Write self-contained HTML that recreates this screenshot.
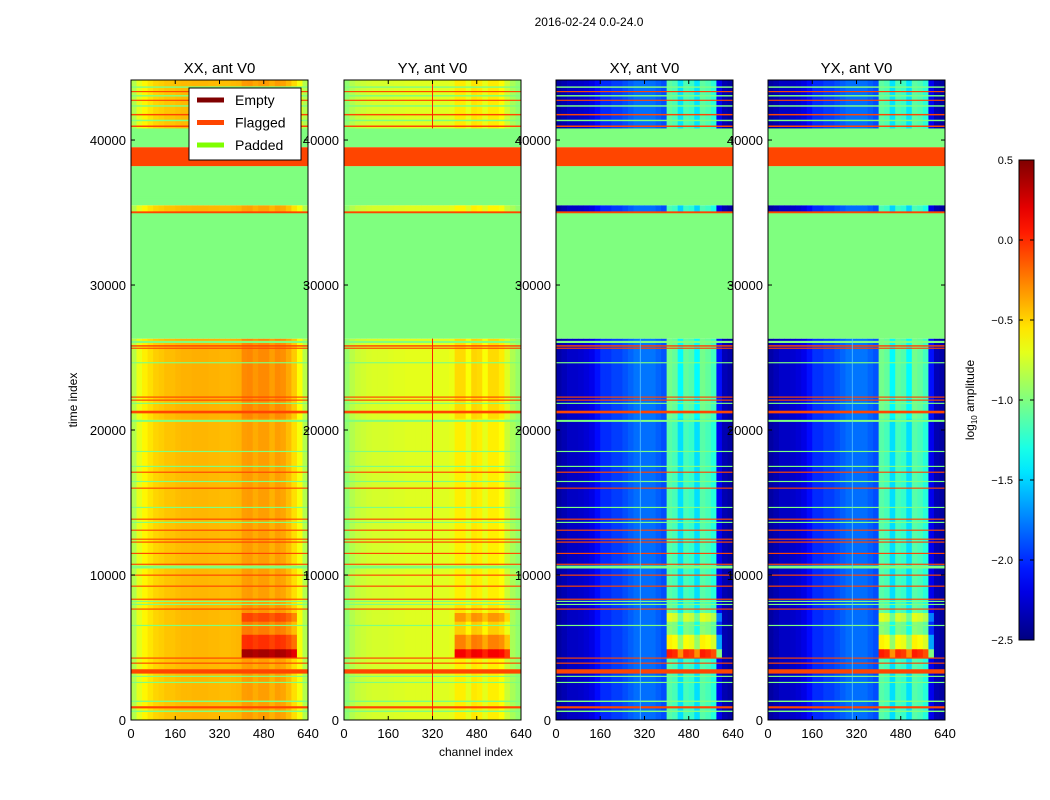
<!DOCTYPE html>
<html><head><meta charset="utf-8"><style>
body{margin:0;background:#fff;}
svg{display:block;font-family:"Liberation Sans",sans-serif;}
</style></head><body>
<svg id="fig" width="1050" height="800" viewBox="0 0 1050 800"></svg>
<script>
// ---- data ----
const panelTitles = ["XX, ant V0","YY, ant V0","XY, ant V0","YX, ant V0"];
const xTicks = [0,160,320,480,640];
const yTicks = [0,10000,20000,30000,40000];
const cbTicks = [0.5,0.0,-0.5,-1.0,-1.5,-2.0,-2.5];
// spectrum profiles, 32 bins of 20 channels (log10 amplitude)
const profXX = [-0.85,-0.7,-0.6,-0.55,-0.5,-0.48,-0.45,-0.45,-0.43,-0.42,-0.42,-0.41,-0.41,-0.41,-0.42,-0.42,-0.43,-0.43,-0.42,-0.41,-0.36,-0.35,-0.4,-0.36,-0.36,-0.42,-0.36,-0.38,-0.45,-0.55,-0.65,-0.85];
const profYY = [-0.95,-0.85,-0.8,-0.78,-0.76,-0.75,-0.75,-0.75,-0.74,-0.73,-0.73,-0.72,-0.72,-0.72,-0.72,-0.72,-0.72,-0.72,-0.72,-0.7,-0.6,-0.6,-0.72,-0.58,-0.6,-0.72,-0.6,-0.6,-0.65,-0.8,-0.88,-0.95];
const profXY = [-2.4,-2.35,-2.3,-2.3,-2.28,-2.25,-2.2,-2.1,-2.0,-2.0,-1.95,-1.95,-1.9,-1.85,-1.8,-1.8,-1.8,-1.8,-1.85,-1.9,-1.15,-1.2,-1.5,-1.2,-1.25,-1.5,-1.15,-1.2,-1.3,-2.2,-2.35,-2.4];
const profYX = [-2.4,-2.35,-2.3,-2.3,-2.28,-2.25,-2.2,-2.1,-2.0,-2.0,-1.95,-1.95,-1.9,-1.85,-1.8,-1.8,-1.8,-1.8,-1.85,-1.9,-1.15,-1.2,-1.5,-1.2,-1.25,-1.5,-1.15,-1.2,-1.3,-2.2,-2.35,-2.4];
const boostScale = [1.0,1.0,1.6,1.6];
// data time segments: [t0, t1, offset all channels, extra boost on band channels 400-600]
const segStart = [0,4300,4900,5900,6800,7400,8000,20800,35000,40800];
const segEnd   = [4300,4900,5900,6800,7400,8000,20800,26300,35500,44140];
const segOffset= [0,0,0,0,0,0,0,0.02,0,0];
const segBoost = [0.02,0.75,0.35,0.12,0.28,0.05,0.02,0.06,0,0.03];
// padded (green) intervals
const padStart = [26300,35500,39500,550,1240,2550,2970,6480,7930,8140,10450,13590,14620,16410,17450,18480,20560,21800,24600,26000,36000,41300,42300,43000,43600];
const padEnd   = [35000,38200,40800,650,1340,2630,3050,6560,8010,8220,10650,13670,14700,16490,17530,18560,20700,21880,24680,26150,36100,41400,42400,43100,43700];
// flagged (orange) intervals
const flagStart = [38200,3200,800,3880,4230,7610,8290,9190,9950,10700,11450,12230,12430,13050,13810,15950,17050,21150,22020,22230,25600,25750,34950,40900,41700,42700,43300];
const flagEnd   = [39500,3500,950,3960,4310,7690,8370,9270,10030,10780,11530,12310,12510,13130,13890,16030,17130,21330,22100,22310,25680,25850,35080,41000,41800,42780,43380];
const profiles = [profXX,profYY,profXY,profYX];

// ---- helpers ----
function jet(v){
  let x=(v+2.5)/3; x=Math.max(0,Math.min(1,x));
  const f=(a)=>Math.max(0,Math.min(1,1.5-Math.abs(4*x-a)));
  const r=f(3),g=f(2),b=f(1);
  return `rgb(${Math.round(r*255)},${Math.round(g*255)},${Math.round(b*255)})`;
}
const NS="http://www.w3.org/2000/svg";
const svg=document.getElementById('fig');
function el(tag,attrs,parent){const e=document.createElementNS(NS,tag);for(const k in attrs)e.setAttribute(k,attrs[k]);(parent||svg).appendChild(e);return e;}
function txt(s,attrs,parent){const e=el('text',attrs,parent);e.textContent=s;return e;}

const panelX=[131,344,556,768], PW=177, PT=80, PB=720, TMAX=44140;
const yScale=t=>PB-(t/TMAX)*(PB-PT);
const xScale=(i,c)=>panelX[i]+c/640*PW;

txt("2016-02-24 0.0-24.0",{x:589,y:26,'text-anchor':'middle','font-size':12,});

for(let p=0;p<4;p++){
  const g=el('g',{});
  
  
  const prof=profiles[p];
  for(let s=0;s<segStart.length;s++){
    const y0=yScale(segEnd[s]), y1=yScale(segStart[s]);
    for(let b=0;b<prof.length;b++){
      const c0=b*20;
      let v=prof[b]+segOffset[s];
      if(c0>=400&&c0<600) v+=segBoost[s]*boostScale[p];
      const r=el('rect',{x:xScale(p,c0).toFixed(2),y:y0.toFixed(2),width:(PW/32+0.4).toFixed(2),height:(y1-y0+0.3).toFixed(2),fill:jet(v)},g);
      
      
    }
  }
  for(let k=0;k<padStart.length;k++){
    const r=el('rect',{x:panelX[p],y:yScale(padEnd[k]),width:PW,height:Math.max(1,yScale(padStart[k])-yScale(padEnd[k])),fill:'#7fff7f'},g);
    
    
  }
  for(let k=0;k<flagStart.length;k++){
    const r=el('rect',{x:panelX[p],y:yScale(flagEnd[k]),width:PW,height:Math.max(1,yScale(flagStart[k])-yScale(flagEnd[k])),fill:'#ff4500'},g);
    
    
  }
  if(p===1){
    el('line',{x1:xScale(1,320),x2:xScale(1,320),y1:yScale(0),y2:yScale(26300),stroke:'#ff2000','stroke-width':1},g);
    el('line',{x1:xScale(1,320),x2:xScale(1,320),y1:yScale(40800),y2:yScale(44140),stroke:'#ff2000','stroke-width':1},g);
  }
  if(p>=2){
    el('line',{x1:xScale(p,305),x2:xScale(p,305),y1:yScale(0),y2:yScale(26300),stroke:'#60d0ff','stroke-width':1,opacity:0.7},g);
  }
  const fr=el('rect',{x:panelX[p],y:PT,width:PW,height:PB-PT,fill:'none',stroke:'#000','stroke-width':1},g);
  
  
  const t=txt(panelTitles[p],{x:panelX[p]+PW/2,y:73,'text-anchor':'middle','font-size':15},g);
  
  
  for(const xt of xTicks){
    const x=xScale(p,xt);
    el('line',{x1:x,x2:x,y1:PB,y2:PB-4,stroke:'#000'},g);
    el('line',{x1:x,x2:x,y1:PT,y2:PT+4,stroke:'#000'},g);
    const l=txt(String(xt),{x:x,y:738,'text-anchor':'middle','font-size':13},g);
    
    
  }
  for(const yt of yTicks){
    const y=yScale(yt);
    el('line',{x1:panelX[p],x2:panelX[p]+4,y1:y,y2:y,stroke:'#000'},g);
    el('line',{x1:panelX[p]+PW,x2:panelX[p]+PW-4,y1:y,y2:y,stroke:'#000'},g);
    const l=txt(String(yt),{x:panelX[p]-5,y:y+5,'text-anchor':'end','font-size':13},g);
    
    
  }
}
txt("time index",{x:77,y:400,'text-anchor':'middle','font-size':12,transform:'rotate(-90 77 400)',});
txt("channel index",{x:476,y:756,'text-anchor':'middle','font-size':12,});

// legend
const lg=el('g',{});
el('rect',{x:189,y:88,width:112,height:72,fill:'#fff',stroke:'#000'},lg);
const legNames=["Empty","Flagged","Padded"], legCols=["#800000","#ff4500","#7fff00"];
for(let i=0;i<3;i++){
  const y=100+i*22.5;
  const e=el('g',{},lg);
  
  
  el('line',{x1:197,x2:224,y1:y,y2:y,stroke:legCols[i],'stroke-width':5},e);
  txt(legNames[i],{x:235,y:y+5,'font-size':14},e);
}

// colorbar
const cb=el('g',{});
const defs=el('defs',{});
const grad=el('linearGradient',{id:'jetg',x1:0,y1:1,x2:0,y2:0},defs);
for(let i=0;i<=20;i++){el('stop',{offset:i/20,'stop-color':jet(-2.5+3*i/20)},grad);}
el('rect',{x:1019,y:160,width:15,height:480,fill:'url(#jetg)',stroke:'#000'},cb);
for(const v of cbTicks){
  const y=160+(0.5-v)/3*480;
  el('line',{x1:1030,x2:1034,y1:y,y2:y,stroke:'#000'},cb);
  el('line',{x1:1019,x2:1023,y1:y,y2:y,stroke:'#000'},cb);
  const l=txt((v<0?'\u2212':'')+Math.abs(v).toFixed(1),{x:1013,y:y+4,'text-anchor':'end','font-size':11},cb);
  
  
}
const cl=el('text',{x:974,y:400,'text-anchor':'middle','font-size':12,transform:'rotate(-90 974 400)'},cb);


cl.innerHTML='log<tspan font-size="8" dy="3">10</tspan><tspan dy="-3"> amplitude</tspan>';
</script>
</body></html>
